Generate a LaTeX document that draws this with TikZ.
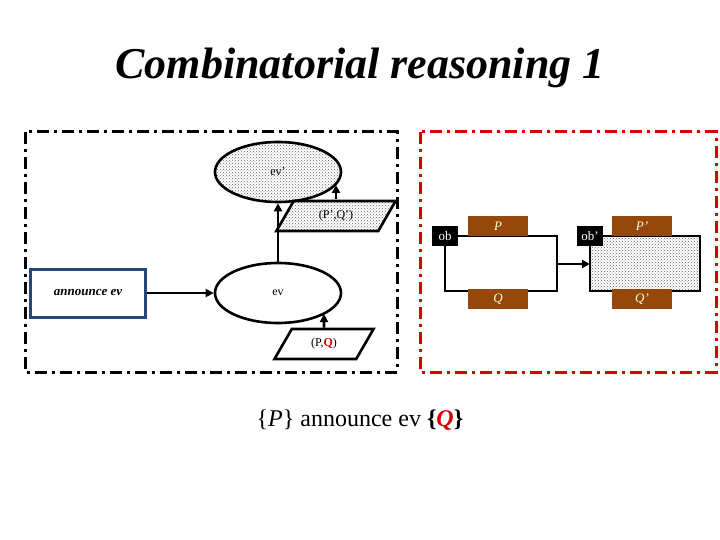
\documentclass[tikz,border=0pt]{standalone}
\usepackage{fontspec}
\setmainfont{Liberation Serif}
\usetikzlibrary{patterns,arrows.meta,shapes.geometric}
\definecolor{brn}{RGB}{150,72,10}
\definecolor{blu}{RGB}{40,70,120}
\begin{document}
\begin{tikzpicture}[x=1pt,y=-1pt,font=\fontsize{12}{14}\selectfont,
 dd/.style={line width=3pt,dash pattern=on 12pt off 5pt on 3pt off 5pt},
 ell/.style={ellipse,draw,line width=2.6pt,minimum width=126pt,minimum height=60pt},
 par/.style={trapezium,trapezium left angle=60,trapezium right angle=120,draw,line width=2.6pt,minimum height=30pt,minimum width=94pt,inner sep=1pt},
 dotf/.style={pattern=crosshatch dots,pattern color=black!60},
 ar/.style={line width=2.6pt,-{Triangle[length=8pt,width=8pt]}},
 bx/.style={draw,line width=2.6pt},
 lab/.style={fill=brn,text=yellow!15,font=\itshape\fontsize{13}{15}\selectfont,minimum width=60pt,minimum height=20pt,inner sep=0pt},
 obs/.style={fill=black,text=white,font=\fontsize{13}{15}\selectfont,minimum width=26pt,minimum height=20pt,inner sep=0pt}]
\useasboundingbox (0,0) rectangle (720,540);
\node[font=\bfseries\itshape\fontsize{44}{48}\selectfont] (title) at (360,68) {Combinatorial reasoning 1};
\draw[dd] (25,132) rectangle (397,372);
\draw[dd,red!85!black] (420,132) rectangle (716,372);
\node[ell,dotf] (evp) at (278,172) {ev'};
\node[ell] (ev) at (278,293) {ev};
\node[par,dotf] (pq2) at (336,216) {(P',Q')};
\node[par] (pq) at (324,344) {(P,\textcolor{red!80!black}{\textbf{Q}})};
\node[draw=blu,line width=3pt,minimum width=115pt,minimum height=48pt,font=\bfseries\itshape\fontsize{13}{15}\selectfont] (ann) at (88,293) {announce ev};
\draw[ar] (ann.east) -- (ev.west);
\draw[ar] (ev.north) -- (evp.south);
\draw[ar] (336,199) -- (336,185);
\draw[ar] (pq.north) -- (324,314);
% right
\coordinate (r1a) at (445,236); \coordinate (r1b) at (557,291);
\draw[bx] (r1a) rectangle (r1b);
\draw[bx,dotf] (590,236) rectangle (700,291);
\node[obs] (ob) at (445,236) {ob};
\node[obs] (obp) at (590,236) {ob'};
\node[lab] (P) at (498,226) {P};
\node[lab] (Q) at (498,299) {Q};
\node[lab] (Pp) at (642,226) {P'};
\node[lab] (Qp) at (642,299) {Q'};
\coordinate (s) at (557,264); \coordinate (t) at (590,264);
\draw[ar] (s) -- (t);
\node[font=\fontsize{24}{28}\selectfont] (bot) at (360,420) {\{\textit{P}\} announce ev \textbf{\{}\textcolor{red!85!black}{\textbf{\textit{Q}}}\textbf{\}}};
\end{tikzpicture}
\end{document}
